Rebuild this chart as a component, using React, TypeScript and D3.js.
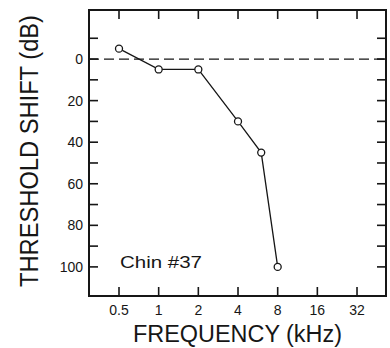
import React from "react";
import * as d3 from "d3";

const frequencies = [0.5, 1, 2, 4, 6, 8];
const thresholdShift = [-5, 5, 5, 30, 45, 100];
const xTickValues = [0.5, 1, 2, 4, 8, 16, 32];
const xTickLabels = ["0.5", "1", "2", "4", "8", "16", "32"];
const yTickValues = [-10, 0, 10, 20, 30, 40, 50, 60, 70, 80, 90, 100];
const yTickLabels = ["0", "20", "40", "60", "80", "100"];
const yLabelValues = [0, 20, 40, 60, 80, 100];
const referenceLevel = [0];

const W = 390, H = 348;
const L = 89, R = 386, T = 10, B = 296;
const FONT = "'Liberation Sans', Arial, Helvetica, sans-serif";
const INK = "#161616";

export default function App() {
  const x = d3.scaleLog().base(2).domain([0.296, 53.1]).range([L, R]);
  const y = d3.scaleLinear().domain([-23.6, 114]).range([T, B]);
  const line = d3.line<number>()
    .x((_, i) => x(frequencies[i]))
    .y((d) => y(d));
  const tick = 9;

  return (
    <svg width={W} height={H} style={{ position: "absolute", left: 0, top: 0, background: "#fff" }}>
      <rect x={0} y={0} width={W} height={H} fill="#fff" />
      {/* frame */}
      <rect x={L} y={T} width={R - L} height={B - T} fill="none" stroke={INK} strokeWidth={2} />
      {/* x ticks top and bottom */}
      {xTickValues.map((v, i) => (
        <g key={"xt" + i}>
          <line x1={x(v)} x2={x(v)} y1={T} y2={T + tick} stroke={INK} strokeWidth={1.6} />
          <line x1={x(v)} x2={x(v)} y1={B} y2={B - tick} stroke={INK} strokeWidth={1.6} />
          <text x={x(v)} y={315} textAnchor="middle" fontFamily={FONT} fontSize={14} fill={INK}>
            {xTickLabels[i]}
          </text>
        </g>
      ))}
      {/* y ticks left and right */}
      {yTickValues.map((v, i) => (
        <g key={"yt" + i}>
          <line x1={L} x2={L + tick} y1={y(v)} y2={y(v)} stroke={INK} strokeWidth={1.6} />
          <line x1={R} x2={R - tick} y1={y(v)} y2={y(v)} stroke={INK} strokeWidth={1.6} />
        </g>
      ))}
      {yLabelValues.map((v, i) => (
        <text key={"yl" + i} x={83} y={y(v) + 5} textAnchor="end" fontFamily={FONT} fontSize={14} fill={INK}>
          {yTickLabels[i]}
        </text>
      ))}
      {/* reference dashed line */}
      {referenceLevel.map((v, i) => (
        <line key={"ref" + i} x1={L} x2={R} y1={y(v)} y2={y(v)} stroke={INK} strokeWidth={1.3} strokeDasharray="10,5" />
      ))}
      {/* data */}
      <path d={line(thresholdShift) || ""} fill="none" stroke={INK} strokeWidth={1.3} />
      {thresholdShift.map((v, i) => (
        <circle key={"pt" + i} cx={x(frequencies[i])} cy={y(v)} r={3.5} fill="#fff" stroke={INK} strokeWidth={1.3} />
      ))}
      {/* annotation */}
      <text x={120} y={268} fontFamily={FONT} fontSize={17} fill={INK} textLength={82} lengthAdjust="spacingAndGlyphs">
        Chin #37
      </text>
      {/* axis titles */}
      <text
        transform={`translate(${38},${(15 + 287) / 2}) rotate(-90)`}
        textAnchor="middle"
        fontFamily={FONT}
        fontSize={25}
        fill={INK}
        textLength={272}
        lengthAdjust="spacingAndGlyphs"
      >
        THRESHOLD SHIFT (dB)
      </text>
      <text
        x={(133 + 342) / 2}
        y={342}
        textAnchor="middle"
        fontFamily={FONT}
        fontSize={23}
        fill={INK}
        textLength={209}
        lengthAdjust="spacingAndGlyphs"
      >
        FREQUENCY (kHz)
      </text>
    </svg>
  );
}
